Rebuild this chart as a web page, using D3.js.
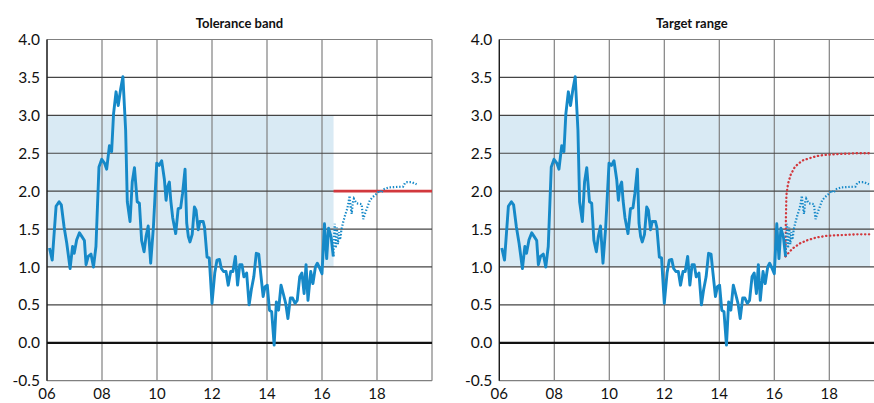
<!DOCTYPE html>
<html>
<head>
<meta charset="utf-8">
<script src="https://cdn.jsdelivr.net/npm/d3@7"></script>
<style>
  html, body { margin: 0; padding: 0; background: #fff; overflow: hidden; }
  svg { display: block; }
  text { font-family: Lato, "Open Sans", "Liberation Sans", sans-serif; fill: #111; }
</style>
</head>
<body>
<svg id="chart" width="874" height="403"></svg>
<script>
// ---- Data ----
const panelTitles = ["Tolerance band", "Target range"];
const xTickValues = [2006, 2008, 2010, 2012, 2014, 2016, 2018];
const xTickLabels = ["06", "08", "10", "12", "14", "16", "18"];
const yTickValues = [-0.5, 0, 0.5, 1, 1.5, 2, 2.5, 3, 3.5, 4];
const yTickLabels = ["-0.5", "0.0", "0.5", "1.0", "1.5", "2.0", "2.5", "3.0", "3.5", "4.0"];

const actualDates = [
  2006.09,2006.19,2006.33,2006.44,2006.52,2006.62,2006.72,2006.84,2006.93,2006.99,
  2007.08,2007.18,2007.27,2007.36,2007.42,2007.50,2007.60,2007.69,2007.78,2007.89,
  2007.99,2008.09,2008.17,2008.27,2008.35,2008.42,2008.51,2008.59,2008.68,2008.76,
  2008.86,2008.92,2009.02,2009.10,2009.18,2009.28,2009.36,2009.44,2009.53,2009.60,
  2009.68,2009.77,2009.87,2009.99,2010.08,2010.17,2010.27,2010.33,2010.39,2010.45,
  2010.50,2010.57,2010.68,2010.77,2010.86,2010.93,2011.02,2011.08,2011.14,2011.20,
  2011.28,2011.36,2011.42,2011.50,2011.56,2011.68,2011.73,2011.82,2011.90,2012.00,
  2012.10,2012.18,2012.27,2012.34,2012.42,2012.51,2012.59,2012.68,2012.76,2012.85,
  2012.93,2013.01,2013.09,2013.16,2013.26,2013.35,2013.43,2013.52,2013.61,2013.70,
  2013.77,2013.86,2013.93,2014.01,2014.09,2014.17,2014.26,2014.34,2014.42,2014.51,
  2014.59,2014.68,2014.76,2014.85,2014.93,2015.02,2015.10,2015.19,2015.27,2015.35,
  2015.42,2015.49,2015.59,2015.67,2015.76,2015.83,2015.92,2016.00,2016.09,2016.17,
  2016.24,2016.33,2016.41
];
const actualValues = [
  1.25,1.09,1.80,1.86,1.82,1.53,1.31,0.98,1.27,1.18,
  1.36,1.45,1.40,1.35,1.03,1.14,1.17,1.00,1.27,2.32,
  2.42,2.37,2.29,2.60,2.52,3.02,3.31,3.13,3.35,3.51,
  2.80,1.86,1.60,2.12,2.31,1.86,1.84,1.35,1.20,1.40,
  1.54,1.05,1.53,2.37,2.34,2.40,2.15,1.88,2.06,2.12,
  1.88,1.65,1.44,1.77,1.78,1.97,2.29,1.58,1.40,1.33,
  1.43,1.79,1.75,1.49,1.60,1.60,1.52,1.13,1.12,0.52,
  0.92,1.09,1.10,0.98,0.94,0.94,0.76,0.94,0.94,1.14,
  0.76,1.03,1.03,0.87,0.92,0.50,0.70,0.87,1.18,1.17,
  0.92,0.61,0.74,0.76,0.43,0.41,-0.03,0.54,0.43,0.76,
  0.65,0.52,0.32,0.59,0.59,0.52,0.56,0.87,0.92,0.65,
  1.03,0.56,0.94,0.78,1.00,1.05,0.98,0.91,1.57,1.11,
  1.51,1.40,1.14
];

const forecastDates = [
  2016.41,2016.46,2016.50,2016.54,2016.58,2016.62,2016.66,2016.71,2016.77,2016.83,
  2016.92,2016.97,2017.00,2017.04,2017.08,2017.12,2017.16,2017.25,2017.44,2017.50,
  2017.57,2017.65,2017.74,2017.84,2018.00,2018.08,2018.15,2018.27,2018.45,2018.95,
  2019.02,2019.10,2019.25,2019.44
];
const forecastValues = [
  1.14,1.57,1.25,1.52,1.30,1.46,1.36,1.50,1.59,1.67,
  1.77,1.86,1.94,1.80,1.70,1.85,1.90,1.84,1.83,1.63,
  1.71,1.79,1.88,1.92,1.97,2.01,1.98,2.03,2.05,2.06,
  2.11,2.12,2.12,2.09
];

// Tolerance band (left) and target range (right)
const bandLow = 1.0, bandHigh = 3.0;
const toleranceBandEnd = 2016.42;
const targetBandEnd = 2019.48;
const targetLevel = 2.0;
const targetLineDates = [2016.42, 2020];

const upperDates = [2016.41,2016.42,2016.44,2016.50,2016.60,2016.75,2016.90,2017.06,2017.25,2017.42,2017.65,2017.90,2018.40,2019.00,2019.45];
const upperValues = [1.14,1.60,1.95,2.10,2.22,2.32,2.37,2.41,2.43,2.45,2.47,2.48,2.49,2.50,2.50];
const lowerDates = [2016.41,2016.55,2016.69,2016.93,2017.18,2017.54,2017.90,2018.39,2019.00,2019.45];
const lowerValues = [1.14,1.20,1.25,1.31,1.35,1.39,1.41,1.42,1.43,1.43];

// ---- Drawing ----
const svg = d3.select("#chart");
const blue = "#1689c8", red = "#d2383d", shade = "#d9eaf4";
const plotW = 385, yTop = 39.5, yBot = 380.7;
const panels = [{x0: 47}, {x0: 499.3}];

panels.forEach((p, i) => {
  const x = d3.scaleLinear().domain([2006, 2020]).range([p.x0, p.x0 + plotW]);
  const y = d3.scaleLinear().domain([-0.5, 4]).range([yBot, yTop]);
  const g = svg.append("g");

  // shaded band
  const bandEnd = i === 0 ? toleranceBandEnd : targetBandEnd;
  g.append("rect")
    .attr("x", x(2006)).attr("y", y(bandHigh))
    .attr("width", x(bandEnd) - x(2006))
    .attr("height", y(bandLow) - y(bandHigh))
    .attr("fill", shade);

  // vertical grid
  g.selectAll(".vg").data(xTickValues.concat([2020])).enter().append("line")
    .attr("x1", d => x(d)).attr("x2", d => x(d))
    .attr("y1", yTop).attr("y2", yBot)
    .attr("stroke", "#808080").attr("stroke-width", 1.2);

  // horizontal grid
  g.selectAll(".hg").data(yTickValues.filter(v => v !== 0)).enter().append("line")
    .attr("x1", x(2006)).attr("x2", x(2020))
    .attr("y1", d => y(d)).attr("y2", d => y(d))
    .attr("stroke", d => (d === 4 || d === -0.5) ? "#808080" : "#454545")
    .attr("stroke-width", 1.2);

  // left axis line
  g.append("line").attr("x1", x(2006)).attr("x2", x(2006))
    .attr("y1", yTop).attr("y2", yBot).attr("stroke", "#111").attr("stroke-width", 1.2);
  // zero line
  g.append("line").attr("x1", x(2006)).attr("x2", x(2020))
    .attr("y1", y(0)).attr("y2", y(0)).attr("stroke", "#111").attr("stroke-width", 2.2);

  // y tick labels
  g.selectAll(".yl").data(yTickValues).enter().append("text")
    .attr("x", x(2006) - 7).attr("y", d => y(d))
    .attr("dy", "0.36em").attr("text-anchor", "end")
    .style("font-size", "15.5px")
    .text((d, j) => yTickLabels[j]);

  // x tick labels
  g.selectAll(".xl").data(xTickValues).enter().append("text")
    .attr("x", d => x(d)).attr("y", 399)
    .attr("text-anchor", "middle")
    .style("font-size", "15px")
    .text((d, j) => xTickLabels[j]);

  // title
  g.append("text").attr("x", p.x0 + plotW / 2).attr("y", 28)
    .attr("text-anchor", "middle")
    .style("font-size", "13px").style("font-weight", "bold")
    .text(panelTitles[i]);

  const line = d3.line().x(d => x(d[0])).y(d => y(d[1]));

  // red target line / range
  if (i === 0) {
    g.append("path")
      .datum(targetLineDates.map(t => [t, targetLevel]))
      .attr("d", line).attr("fill", "none")
      .attr("stroke", red).attr("stroke-width", 2.6);
  } else {
    [[upperDates, upperValues], [lowerDates, lowerValues]].forEach(([ds, vs]) => {
      g.append("path")
        .datum(ds.map((t, k) => [t, vs[k]]))
        .attr("d", line).attr("fill", "none")
        .attr("stroke", red).attr("stroke-width", 2.3)
        .attr("stroke-linecap", "round")
        .attr("stroke-dasharray", "0.3,3.6");
    });
  }

  // actual inflation
  g.append("path")
    .datum(actualDates.map((t, k) => [t, actualValues[k]]))
    .attr("d", line).attr("fill", "none")
    .attr("stroke", blue).attr("stroke-width", 2.9)
    .attr("stroke-linejoin", "round");

  // forecast
  g.append("path")
    .datum(forecastDates.map((t, k) => [t, forecastValues[k]]))
    .attr("d", line).attr("fill", "none")
    .attr("stroke", blue).attr("stroke-width", 2.2)
    .attr("stroke-dasharray", "1.4,1.8");
});
</script>
</body>
</html>
